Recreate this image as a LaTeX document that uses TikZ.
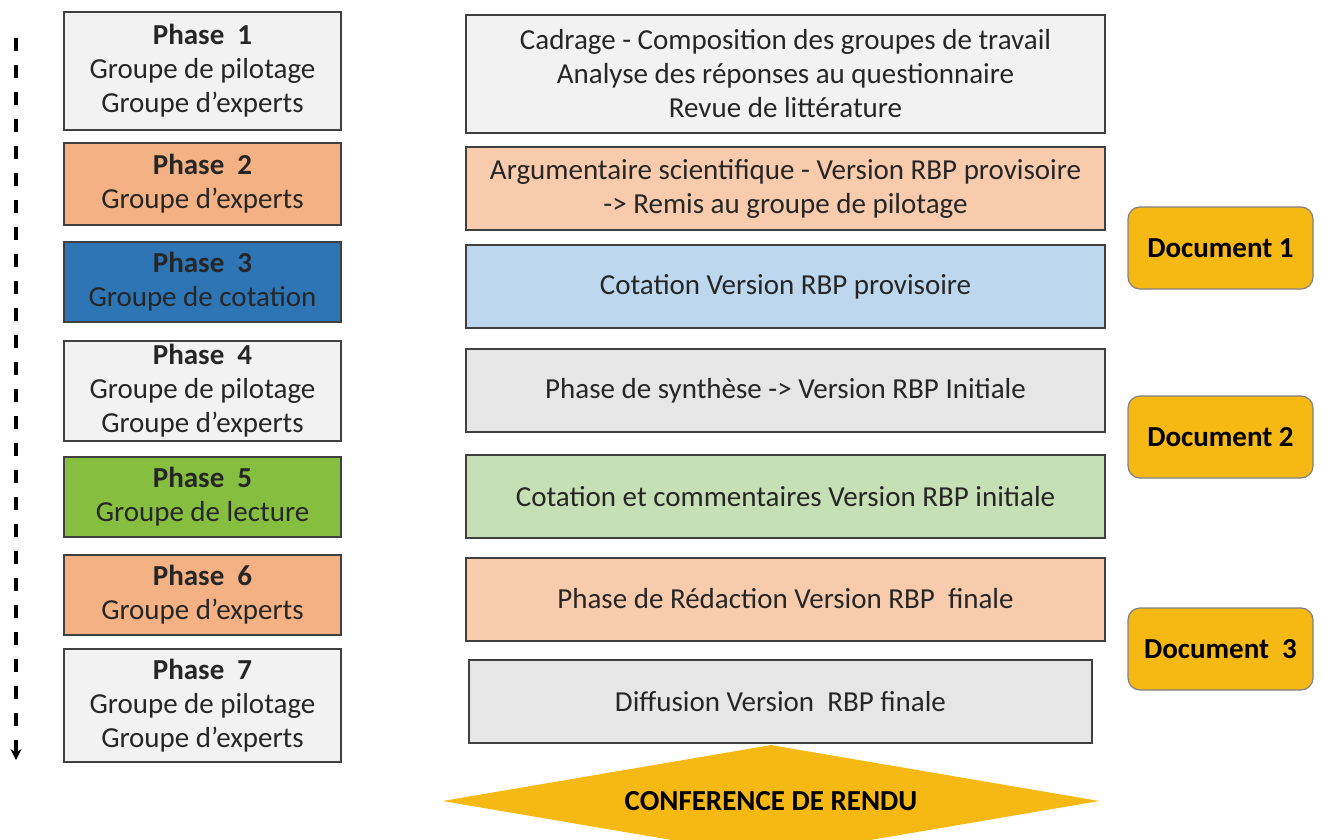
\documentclass[tikz,border=0pt]{standalone}
\usepackage{fontspec}
\setmainfont{Carlito}
\usetikzlibrary{shapes.geometric,arrows.meta,positioning}
\definecolor{greyfill}{HTML}{F2F2F2}
\definecolor{darkgreyfill}{HTML}{E7E6E6}
\definecolor{peach}{HTML}{F4B183}
\definecolor{lightpeach}{HTML}{F8CBAD}
\definecolor{phaseblue}{HTML}{2E75B6}
\definecolor{lightblue}{HTML}{BDD7EE}
\definecolor{phasegreen}{HTML}{86BF3F}
\definecolor{lightgreen}{HTML}{C5E0B4}
\definecolor{gold}{HTML}{F6B812}
\definecolor{boxline}{HTML}{404040}
\definecolor{textgrey}{HTML}{262626}

\begin{document}
\begin{tikzpicture}[
  x=1pt, y=-1pt,
  phase/.style={rectangle, draw=boxline, line width=2pt, minimum width=277pt, align=center, inner sep=0pt, text=textgrey, font=\fontsize{29}{34}\selectfont},
  task/.style={rectangle, draw=boxline, line width=2pt, minimum width=639pt, minimum height=83pt, align=center, inner sep=0pt, text=textgrey, font=\fontsize{29}{34}\selectfont},
  docbox/.style={rectangle, draw=gray, line width=1.2pt, rounded corners=12pt, fill=gold, minimum width=185pt, minimum height=82pt, font=\fontsize{29}{34}\selectfont\bfseries},
  timeline/.style={-{Stealth[length=11pt,width=11pt]}, line width=4.5pt, dash pattern=on 13pt off 14pt}
]
  \useasboundingbox (0,0) rectangle (1322,840);
  % phases on the left
  \node[phase, fill=greyfill, minimum height=118pt] (p1) at (202.5,71) {\textbf{Phase\ \ 1}\\Groupe de pilotage\\Groupe d’experts};
  \node[phase, fill=peach, minimum height=82pt] (p2) at (202.5,184) {\textbf{Phase\ \ 2}\\Groupe d’experts};
  \node[phase, fill=phaseblue, minimum height=80pt] (p3) at (202.5,282) {\textbf{Phase\ \ 3}\\Groupe de cotation};
  \node[phase, fill=greyfill, minimum height=100pt] (p4) at (202.5,391) {\textbf{Phase\ \ 4}\\Groupe de pilotage\\Groupe d’experts};
  \node[phase, fill=phasegreen, minimum height=80pt] (p5) at (202.5,497) {\textbf{Phase\ \ 5}\\Groupe de lecture};
  \node[phase, fill=peach, minimum height=80pt] (p6) at (202.5,595) {\textbf{Phase\ \ 6}\\Groupe d’experts};
  \node[phase, fill=greyfill, minimum height=113pt] (p7) at (202.5,705.5) {\textbf{Phase\ \ 7}\\Groupe de pilotage\\Groupe d’experts};
  % tasks in the middle
  \node[task, fill=greyfill, minimum height=118pt] (t1) at (785.5,74) {Cadrage - Composition des groupes de travail\\Analyse des réponses au questionnaire\\Revue de littérature};
  \node[task, fill=lightpeach] (t2) at (785.5,188.5) {Argumentaire scientifique - Version RBP provisoire\\-> Remis au groupe de pilotage};
  \node[task, fill=lightblue] (t3) at (785.5,286.5) {Cotation Version RBP provisoire};
  \node[task, fill=darkgreyfill] (t4) at (785.5,390.5) {Phase de synthèse -> Version RBP Initiale};
  \node[task, fill=lightgreen] (t5) at (785.5,496.5) {Cotation et commentaires Version RBP initiale};
  \node[task, fill=lightpeach] (t6) at (785.5,599) {Phase de Rédaction Version RBP\ \ finale};
  \node[task, fill=darkgreyfill, minimum width=623pt] (t7) at (780.5,701.5) {Diffusion Version\ \ RBP finale};
  % documents on the right
  \node[docbox] (doc1) at (1220.5,248) {Document 1};
  \node[docbox] (doc2) at (1220.5,437) {Document 2};
  \node[docbox] (doc3) at (1220.5,649) {Document\ \ 3};
  % final conference
  \node[diamond, fill=gold, aspect=6, inner sep=0pt, minimum width=657pt, minimum height=112pt, font=\fontsize{29}{34}\selectfont\bfseries] (conf) at (771,801) {CONFERENCE DE RENDU};
  % time axis
  \coordinate (start) at (16,38);
  \coordinate (end) at (16,760);
  \draw[timeline] (start) -- (end);
\end{tikzpicture}
\end{document}
